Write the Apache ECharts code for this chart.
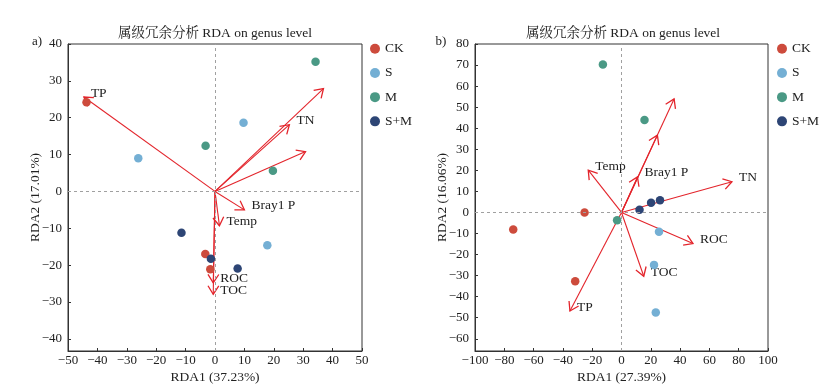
<!DOCTYPE html>
<html>
<head>
<meta charset="utf-8">
<script src="https://cdn.jsdelivr.net/npm/echarts@6/dist/echarts.min.js"></script>
<style>html,body{margin:0;padding:0;background:#fff}#c{width:835px;height:391px}</style>
</head>
<body>
<div id="c"></div>
<script>
// ---------- DATA ----------
const groups = ['CK', 'S', 'M', 'S+M'];

// Panel a)
const aCK = [[-43.7, 24.2], [-3.3, -17.0], [-1.6, -21.1]];
const aS  = [[-26.1, 9.0], [9.7, 18.6], [17.8, -14.6]];
const aM  = [[-3.2, 12.4], [34.2, 35.2], [19.7, 5.6]];
const aSM = [[-11.4, -11.2], [-1.4, -18.3], [7.7, -20.9]];
const aArrowNames = ['TP', '', 'TN', '', 'Bray1 P', 'Temp', 'ROC', 'TOC'];
const aArrowTips = [[-44.6, 25.6], [36.9, 27.9], [25.3, 18.1], [30.8, 10.8], [10.0, -5.0], [1.5, -9.3], [-0.6, -24.8], [-0.6, -27.9]];
const aXTicks = [-50, -40, -30, -20, -10, 0, 10, 20, 30, 40, 50];
const aYTicks = [-40, -30, -20, -10, 0, 10, 20, 30, 40];
const aXRange = [-50, 50];
const aYRange = [-43.3, 40];
const aTitle = '属级冗余分析 RDA on genus level';
const aXName = 'RDA1 (37.23%)';
const aYName = 'RDA2 (17.01%)';

// Panel b)
const bCK = [[-25.2, 0], [-73.9, -8.1], [-31.6, -32.7]];
const bS  = [[25.6, -9.2], [22.2, -24.9], [23.4, -47.5]];
const bM  = [[-12.7, 70.3], [15.7, 43.9], [-3.0, -3.7]];
const bSM = [[26.3, 5.8], [20.2, 4.6], [12.3, 1.3]];
const bArrowNames = ['Temp', 'Bray1 P', '', '', 'TN', 'ROC', 'TOC', 'TP'];
const bArrowTips = [[-22.7, 20.1], [10.9, 16.9], [24.5, 36.7], [35.9, 53.9], [75.4, 14.6], [48.8, -14.8], [15.2, -30.3], [-35.2, -46.8]];
const bXTicks = [-100, -80, -60, -40, -20, 0, 20, 40, 60, 80, 100];
const bYTicks = [-60, -50, -40, -30, -20, -10, 0, 10, 20, 30, 40, 50, 60, 70, 80];
const bXRange = [-100, 100];
const bYRange = [-65.8, 80];
const bTitle = '属级冗余分析 RDA on genus level';
const bXName = 'RDA1 (27.39%)';
const bYName = 'RDA2 (16.06%)';

// ---------- STYLE ----------
const groupColors = ['#cd4b3c', '#74afd4', '#4a9985', '#2d4575'];
const RED = '#e3242b';
const FONT = '"Liberation Serif", "Noto Serif CJK SC", "Noto Sans CJK SC", serif';
const TXT = '#222';
const fmt = v => String(v).replace('-', '\u2212');

function arrowRender(names) {
  return function (params, api) {
    const o = api.coord([0, 0]);
    const t = api.coord([api.value(0), api.value(1)]);
    const ang = Math.atan2(t[1] - o[1], t[0] - o[0]);
    const L = 10, A = Math.PI / 5.5;
    const h1 = [t[0] - L * Math.cos(ang - A), t[1] - L * Math.sin(ang - A)];
    const h2 = [t[0] - L * Math.cos(ang + A), t[1] - L * Math.sin(ang + A)];
    return {
      type: 'group',
      children: [
        { type: 'line', shape: { x1: o[0], y1: o[1], x2: t[0], y2: t[1] }, style: { stroke: RED, lineWidth: 1.1 } },
        { type: 'polyline', shape: { points: [h1, t, h2] }, style: { stroke: RED, lineWidth: 1.3, fill: null } },
        { type: 'text', x: t[0] + 7, y: t[1] - 4, style: { text: names[params.dataIndex], fill: TXT, font: '13.5px ' + FONT, verticalAlign: 'middle', align: 'left' } }
      ]
    };
  };
}

function axisPair(idx, xr, yr, xt, yt, xn, yn) {
  const common = {
    gridIndex: idx,
    type: 'value',
    axisLine: { show: true, onZero: false, lineStyle: { color: '#333', width: 1 } },
    axisTick: { show: true, inside: true, length: 3, lineStyle: { color: '#333' } },
    splitLine: { show: false },
    nameLocation: 'middle',
    nameMoveOverlap: false,
    nameTextStyle: { fontFamily: FONT, fontSize: 13.5, color: TXT }
  };
  return {
    x: Object.assign({}, common, {
      min: xr[0], max: xr[1], name: xn, nameGap: 20,
      axisTick: Object.assign({}, common.axisTick, { customValues: xt }),
      axisLabel: { customValues: xt, formatter: fmt, fontFamily: FONT, fontSize: 13, color: TXT, margin: 3 }
    }),
    y: Object.assign({}, common, {
      min: yr[0], max: yr[1], name: yn, nameGap: 26,
      axisTick: Object.assign({}, common.axisTick, { customValues: yt }),
      axisLabel: { customValues: yt, formatter: fmt, fontFamily: FONT, fontSize: 13, color: TXT, margin: 6 }
    })
  };
}

const pa = axisPair(0, aXRange, aYRange, aXTicks, aYTicks, aXName, aYName);
const pb = axisPair(1, bXRange, bYRange, bXTicks, bYTicks, bXName, bYName);

const zeroLines = {
  silent: true, symbol: 'none', label: { show: false },
  lineStyle: { color: '#a0a0a0', type: [3, 3], width: 1 },
  data: [{ xAxis: 0 }, { yAxis: 0 }]
};

const series = [];
[[aArrowTips, aArrowNames, 0], [bArrowTips, bArrowNames, 1]].forEach(([tips, names, i]) => {
  series.push({
    type: 'custom', xAxisIndex: i, yAxisIndex: i, data: tips, z: 3, clip: false, silent: true,
    renderItem: arrowRender(names), encode: { x: 0, y: 1 }, markLine: zeroLines
  });
});
[[aCK, aS, aM, aSM], [bCK, bS, bM, bSM]].forEach((sets, i) => {
  sets.forEach((d, g) => {
    series.push({
      type: 'scatter', name: groups[g], xAxisIndex: i, yAxisIndex: i, data: d,
      symbol: 'circle', symbolSize: 8.5, z: 4,
      itemStyle: { color: groupColors[g], opacity: 1 }
    });
  });
});

const legendBase = {
  orient: 'vertical', top: 42, itemWidth: 10, itemHeight: 10, itemGap: 10.7,
  icon: 'circle', data: groups, selectedMode: false,
  textStyle: { fontFamily: FONT, fontSize: 13.5, color: TXT, padding: [0, 0, 0, 0] },
  padding: 0
};

const chart = echarts.init(document.getElementById('c'));
chart.setOption({
  animation: false,
  backgroundColor: '#fff',
  color: groupColors,
  grid: [
    { left: 68, right: 473, top: 44, bottom: 40, show: true, borderColor: '#333', borderWidth: 1, backgroundColor: 'transparent' },
    { left: 475, right: 67, top: 44, bottom: 40, show: true, borderColor: '#333', borderWidth: 1, backgroundColor: 'transparent' }
  ],
  xAxis: [pa.x, pb.x],
  yAxis: [pa.y, pb.y],
  legend: [
    Object.assign({}, legendBase, { left: 370 }),
    Object.assign({}, legendBase, { left: 777 })
  ],
  graphic: [
    { type: 'text', x: 215, y: 33, style: { text: aTitle, font: '13.5px ' + FONT, fill: TXT, align: 'center', verticalAlign: 'middle' } },
    { type: 'text', x: 623, y: 33, style: { text: bTitle, font: '13.5px ' + FONT, fill: TXT, align: 'center', verticalAlign: 'middle' } },
    { type: 'text', x: 37, y: 42, style: { text: 'a)', font: '13px ' + FONT, fill: TXT, align: 'center', verticalAlign: 'middle' } },
    { type: 'text', x: 441, y: 42, style: { text: 'b)', font: '13px ' + FONT, fill: TXT, align: 'center', verticalAlign: 'middle' } }
  ],
  series: series
});
</script>
</body>
</html>
